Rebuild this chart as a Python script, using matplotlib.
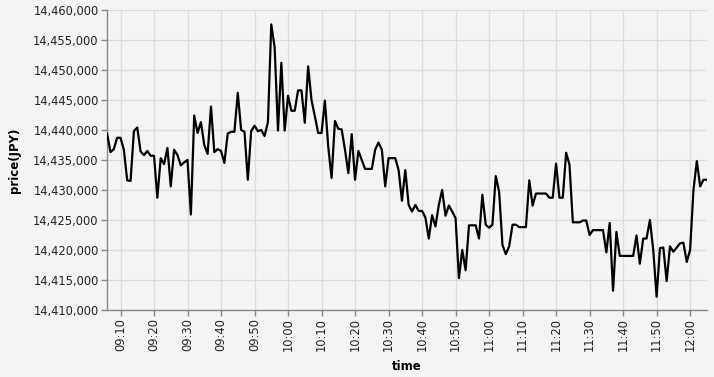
import matplotlib
matplotlib.use('Agg')
import matplotlib.pyplot as plt
import matplotlib.dates as mdates
from matplotlib.ticker import FuncFormatter, MultipleLocator
import pandas as pd

# one price per minute, 09:06 - 12:05 (thousands of yen above 14,000,000)
start_time = '2024-01-01 09:06'
price_k = [
    439.4, 436.3, 436.8, 438.7, 438.7, 436.7, 431.6, 431.5, 439.8, 440.4,
    436.4, 435.8, 436.5, 435.7, 435.7, 428.7, 435.3, 434.3, 437.0, 430.6,
    436.7, 435.8, 434.1, 434.6, 435.0, 425.9, 442.4, 439.5, 441.3, 437.5,
    436.0, 443.9, 436.3, 436.8, 436.5, 434.5, 439.4, 439.7, 439.7, 446.2,
    440.0, 439.7, 431.7, 439.8, 440.7, 439.8, 440.0, 439.0, 441.3, 457.6,
    453.8, 439.9, 451.2, 439.9, 445.7, 443.2, 443.2, 446.6, 446.6, 441.2,
    450.6, 445.0, 442.3, 439.5, 439.5, 444.9, 437.2, 432.0, 441.5, 440.2,
    440.1, 436.7, 432.8, 439.3, 431.7, 436.5, 435.0, 433.5, 433.5, 433.5,
    436.7, 437.9, 436.7, 430.6, 435.3, 435.3, 435.3, 433.3, 428.2, 433.3,
    427.5, 426.4, 427.5, 426.5, 426.5, 425.4, 421.9, 425.8, 423.9, 427.5,
    430.0, 425.7, 427.4, 426.4, 425.3, 415.3, 420.0, 416.6, 424.1, 424.1,
    424.1, 421.9, 429.2, 424.2, 423.7, 424.2, 432.3, 429.7, 420.8, 419.3,
    420.6, 424.2, 424.2, 423.8, 423.8, 423.8, 431.6, 427.4, 429.4, 429.4,
    429.4, 429.4, 428.7, 428.7, 434.4, 428.7, 428.7, 436.2, 434.2, 424.6,
    424.6, 424.6, 424.9, 424.9, 422.5, 423.3, 423.3, 423.3, 423.3, 419.6,
    424.5, 413.2, 423.0, 419.0, 419.0, 419.0, 419.0, 419.0, 422.4, 417.7,
    421.9, 421.9, 425.0, 420.0, 412.2, 420.3, 420.4, 414.8, 420.6, 419.7,
    420.4, 421.1, 421.2, 418.0, 420.0, 430.0, 434.8, 430.6, 431.7, 431.7,
]

times = list(pd.date_range(start_time, periods=len(price_k), freq='min').to_pydatetime())
prices = [14_000_000 + v * 1000 for v in price_k]

bg = '#f4f4f4'
fig = plt.figure(figsize=(7.14, 3.77), dpi=100, facecolor=bg)
ax = fig.add_axes([0.150, 0.178, 0.840, 0.7955], facecolor=bg)

ax.plot(times, prices, color='black', linewidth=1.6, zorder=3)

ax.set_xlim(times[0], times[-1])
ax.set_ylim(14_410_000, 14_460_000)
ax.yaxis.set_major_locator(MultipleLocator(5000))
ax.yaxis.set_major_formatter(FuncFormatter(lambda v, p: f'{int(v):,}'))
ax.xaxis.set_major_locator(mdates.MinuteLocator(byminute=range(0, 60, 10)))
ax.xaxis.set_major_formatter(mdates.DateFormatter('%H:%M'))

ax.grid(True, color='#dcdcdc', linewidth=0.9)
ax.set_axisbelow(True)
for s in ['top', 'right']:
    ax.spines[s].set_visible(False)
for s in ['left', 'bottom']:
    ax.spines[s].set_color('#888888')
    ax.spines[s].set_linewidth(1)

ax.tick_params(axis='both', colors='#888888', labelcolor='#222222',
               length=4, width=1, labelsize=8.3, pad=2)
plt.setp(ax.get_xticklabels(), rotation=90)

ax.set_xlabel('time', fontsize=8.5, fontweight='bold', labelpad=6)
ax.set_ylabel('price(JPY)', fontsize=8.5, fontweight='bold', labelpad=9)

fig.savefig('out.png', dpi=100, facecolor=bg)
